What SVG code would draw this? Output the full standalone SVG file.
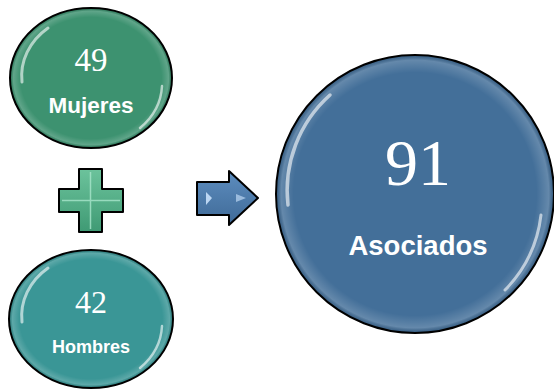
<svg xmlns="http://www.w3.org/2000/svg" width="554" height="390" viewBox="0 0 554 390">
<defs>
<radialGradient id="rim" cx="0.5" cy="0.5" r="0.5">
<stop offset="0.88" stop-color="#fff" stop-opacity="0"/>
<stop offset="0.97" stop-color="#fff" stop-opacity="0.18"/>
<stop offset="1" stop-color="#000" stop-opacity="0.12"/>
</radialGradient>
<linearGradient id="plusG" x1="0" y1="0" x2="0" y2="1">
<stop offset="0" stop-color="#6cc39c"/>
<stop offset="1" stop-color="#3f9a74"/>
</linearGradient>
<linearGradient id="arrG" x1="0" y1="0" x2="0" y2="1">
<stop offset="0" stop-color="#5d8dbf"/>
<stop offset="1" stop-color="#3f6a97"/>
</linearGradient>
<style>
.ring{stroke:#000;stroke-width:2}
.hl{fill:none;stroke:#fff;stroke-linecap:round;opacity:0.6}
.num{font-family:"Liberation Serif",serif;fill:#fff;text-anchor:middle}
.lbl{font-family:"Liberation Sans",Arial,sans-serif;font-weight:bold;fill:#fff;text-anchor:middle}
</style>
</defs>
<g id="mujeres">
<ellipse cx="91" cy="78" rx="81" ry="70" fill="#3d9270" class="ring"/>
<ellipse cx="91" cy="78" rx="80" ry="69" fill="url(#rim)"/>
<path class="hl" stroke-width="3" d="M22,82 A72,62 0 0 1 48,28"/>
<path class="hl" stroke-width="2.5" d="M162,86 A72,62 0 0 1 140,128"/>
<text class="num" x="91" y="71" font-size="33">49</text>
<text class="lbl" x="91" y="113" font-size="22.5">Mujeres</text>
</g>
<g id="hombres">
<ellipse cx="91" cy="319" rx="82" ry="69" fill="#3a9696" class="ring"/>
<ellipse cx="91" cy="319" rx="81" ry="68" fill="url(#rim)"/>
<path class="hl" stroke-width="3" d="M22,322 A72,62 0 0 1 48,268"/>
<path class="hl" stroke-width="2.5" d="M162,326 A72,62 0 0 1 140,368"/>
<text class="num" x="91" y="313" font-size="32">42</text>
<text class="lbl" x="91" y="353" font-size="18">Hombres</text>
</g>
<g id="asociados">
<circle cx="415" cy="194" r="139" fill="#436f99" class="ring"/>
<circle cx="415" cy="194" r="138" fill="url(#rim)"/>
<path class="hl" stroke-width="3.5" d="M288,205 A128,128 0 0 1 330,95"/>
<path class="hl" stroke-width="3" d="M541,215 A128,128 0 0 1 505,290"/>
<text class="num" x="418" y="185" font-size="66">91</text>
<text class="lbl" x="418" y="255" font-size="27.5">Asociados</text>
</g>
<g id="connectors">
<g id="plus">
<path d="M79,169 H102 V189 H123 V212 H102 V232 H79 V212 H59 V189 H79 Z" fill="url(#plusG)" stroke="#000" stroke-width="2" stroke-linejoin="round"/>
<path d="M90.5,172 V229 M62,200.5 H120" stroke="#a9e6cc" stroke-width="1.5" opacity="0.8"/>
</g>
<g id="arrow">
<path d="M197,182 H229 V171 L258,198 L229,225 V215 H197 Z" fill="url(#arrG)" stroke="#000" stroke-width="2" stroke-linejoin="round"/>
<path d="M206,192 L212,198 L206,205 Z" fill="#cfe6ff" opacity="0.85"/>
<path d="M236,194 L246,198 L236,202 Z" fill="#cfe6ff" opacity="0.6"/>
</g>
</g>
</svg>
